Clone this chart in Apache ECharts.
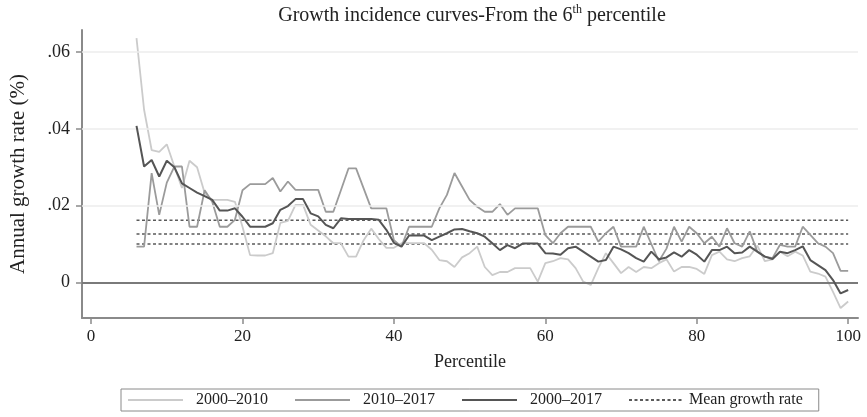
<!DOCTYPE html>
<html>
<head>
<meta charset="utf-8">
<script src="https://cdn.jsdelivr.net/npm/echarts@6/dist/echarts.min.js"></script>
<style>
  html, body { margin: 0; padding: 0; background: #ffffff; }
  #chart { width: 867px; height: 417px; }
</style>
</head>
<body>
<div id="chart"></div>
<script>
// Percentiles 6..100
const percentiles = [];
for (let p = 6; p <= 100; p++) percentiles.push(p);

// 2000–2010 (light gray)
const g2000_2010 = [
  0.0637, 0.0450, 0.0345, 0.0340, 0.0360, 0.0302, 0.0246, 0.0317, 0.0300, 0.0233,
  0.0215, 0.0215, 0.0215, 0.0210, 0.0145, 0.0071, 0.0070, 0.0070, 0.0076, 0.0155,
  0.0160, 0.0202, 0.0202, 0.0150, 0.0135, 0.0120, 0.0102, 0.0102, 0.0067, 0.0067,
  0.0110, 0.0140, 0.0113, 0.0090, 0.0090, 0.0102, 0.0102, 0.0102, 0.0102, 0.0085,
  0.0058, 0.0055, 0.0040, 0.0065, 0.0076, 0.0093, 0.0040, 0.0019, 0.0027, 0.0027,
  0.0037, 0.0037, 0.0037, 0.0002, 0.0050, 0.0055, 0.0063, 0.0060, 0.0037, 0.0002,
  -0.0007, 0.0037, 0.0076, 0.0050, 0.0024, 0.0040, 0.0027, 0.0040, 0.0037, 0.0050,
  0.0060, 0.0028, 0.0040, 0.0040, 0.0035, 0.0022, 0.0071, 0.0080, 0.0060, 0.0055,
  0.0063, 0.0068, 0.0096, 0.0055, 0.0060, 0.0080, 0.0068, 0.0080, 0.0070, 0.0028,
  0.0023, 0.0015, -0.0025, -0.0067, -0.0050
];

// 2010–2017 (medium gray)
const g2010_2017 = [
  0.0093, 0.0093, 0.0285, 0.0176, 0.0260, 0.0302, 0.0302, 0.0145, 0.0145, 0.0240,
  0.0210, 0.0145, 0.0145, 0.0163, 0.0240, 0.0256, 0.0256, 0.0256, 0.0272, 0.0237,
  0.0263, 0.0241, 0.0241, 0.0241, 0.0241, 0.0184, 0.0184, 0.0240, 0.0297, 0.0297,
  0.0245, 0.0193, 0.0193, 0.0193, 0.0110, 0.0093, 0.0145, 0.0145, 0.0145, 0.0145,
  0.0193, 0.0228, 0.0285, 0.0250, 0.0215, 0.0197, 0.0184, 0.0184, 0.0204, 0.0176,
  0.0193, 0.0193, 0.0193, 0.0193, 0.0123, 0.0102, 0.0128, 0.0145, 0.0145, 0.0145,
  0.0145, 0.0106, 0.0128, 0.0145, 0.0093, 0.0093, 0.0093, 0.0145, 0.0100, 0.0055,
  0.0088, 0.0145, 0.0106, 0.0145, 0.0128, 0.0102, 0.0119, 0.0093, 0.0141, 0.0102,
  0.0093, 0.0133, 0.0080, 0.0067, 0.0063, 0.0098, 0.0093, 0.0093, 0.0145, 0.0124,
  0.0102, 0.0093, 0.0076, 0.0030, 0.0030
];

// 2000–2017 (dark gray)
const g2000_2017 = [
  0.0408, 0.0302, 0.0319, 0.0276, 0.0317, 0.0300, 0.0258, 0.0246, 0.0234, 0.0225,
  0.0215, 0.0187, 0.0187, 0.0193, 0.0171, 0.0145, 0.0145, 0.0145, 0.0154, 0.0189,
  0.0199, 0.0217, 0.0217, 0.0180, 0.0172, 0.0150, 0.0141, 0.0167, 0.0165, 0.0165,
  0.0165, 0.0165, 0.0163, 0.0137, 0.0103, 0.0093, 0.0122, 0.0122, 0.0122, 0.0110,
  0.0119, 0.0128, 0.0138, 0.0139, 0.0133, 0.0128, 0.0119, 0.0102, 0.0084, 0.0097,
  0.0089, 0.0101, 0.0101, 0.0101, 0.0076, 0.0075, 0.0072, 0.0089, 0.0093, 0.0080,
  0.0067, 0.0054, 0.0058, 0.0093, 0.0086, 0.0076, 0.0063, 0.0054, 0.0080, 0.0060,
  0.0065, 0.0078, 0.0067, 0.0084, 0.0072, 0.0054, 0.0084, 0.0084, 0.0093, 0.0076,
  0.0078, 0.0093, 0.0080, 0.0067, 0.0061, 0.0080, 0.0076, 0.0084, 0.0094, 0.0058,
  0.0045, 0.0032, 0.0006, -0.0029, -0.0020
];

// Mean growth rates (2010–2017, 2000–2017, 2000–2010)
const meanRates = [0.0162, 0.0126, 0.0100];
const meanRange = [6, 100];

const xTicks = [0, 20, 40, 60, 80, 100];
const yTicks = [0, 0.02, 0.04, 0.06];
const yGrid = [0.02, 0.04, 0.06];

const FONT = 'Liberation Serif';

function pairs(vals) { return percentiles.map((p, i) => [p, vals[i]]); }

const series = [];
const lineDefs = [
  { name: '2000\u20132010', data: g2000_2010, color: '#cbcbcb', width: 1.8 },
  { name: '2010\u20132017', data: g2010_2017, color: '#9b9b9b', width: 1.8 },
  { name: '2000\u20132017', data: g2000_2017, color: '#555555', width: 2 }
];

// gridlines + zero line through a carrier series
series.push({
  type: 'line', data: [], silent: true, name: '_grid',
  markLine: {
    silent: true, symbol: 'none', label: { show: false },
    data: yGrid.map(v => ({ yAxis: v, lineStyle: { color: '#ececec', width: 1.5, type: 'solid' } }))
      .concat([{ yAxis: 0, lineStyle: { color: '#7a7a7a', width: 2, type: 'solid' } }])
  }
});

meanRates.forEach(m => {
  series.push({
    name: 'Mean growth rate', type: 'line', symbol: 'none', showSymbol: false,
    data: meanRange.map(x => [x, m]),
    lineStyle: { color: '#5a5a5a', width: 1.6, type: [3, 2.5] },
    itemStyle: { color: '#5a5a5a' },
    z: 2
  });
});

lineDefs.forEach((d, i) => {
  series.push({
    name: d.name, type: 'line', symbol: 'none', showSymbol: false,
    data: pairs(d.data),
    lineStyle: { color: d.color, width: d.width },
    itemStyle: { color: d.color },
    z: 3 + i
  });
});

const chart = echarts.init(document.getElementById('chart'), null, { renderer: 'canvas' });
chart.setOption({
  animation: false,
  backgroundColor: '#ffffff',
  title: {
    text: 'Growth incidence curves-From the 6{sup|th} percentile',
    left: 467, top: -1, textAlign: 'center',
    textStyle: {
      fontFamily: FONT, fontSize: 20, fontWeight: 'normal', color: '#222',
      rich: { sup: { fontFamily: FONT, fontSize: 12, color: '#222', verticalAlign: 'top', lineHeight: 24 } }
    }
  },
  legend: {
    data: [
      { name: '2000\u20132010' },
      { name: '2010\u20132017' },
      { name: '2000\u20132017' },
      { name: 'Mean growth rate', textStyle: { padding: [0, 0, 0, 0] } }
    ],
    left: 121, top: 389,
    padding: [3, 16, 3, 6],
    itemWidth: 55, itemHeight: 14, itemGap: 26,
    borderColor: '#8a8a8a', borderWidth: 1,
    itemStyle: { color: 'rgba(0,0,0,0)', borderWidth: 0, opacity: 0 },
    textStyle: { fontFamily: FONT, fontSize: 16, color: '#222', padding: [0, 0, 0, 8] }
  },
  grid: { left: 81, right: 9, top: 30, bottom: 99, containLabel: false },
  xAxis: {
    type: 'value', min: -1.2, max: 101.3,
    name: 'Percentile', nameLocation: 'middle', nameGap: 35,
    nameTextStyle: { fontFamily: FONT, fontSize: 18, color: '#222' },
    axisLine: { show: true, onZero: false, lineStyle: { color: '#8a8a8a', width: 2 } },
    axisTick: { show: true, customValues: xTicks, length: 6, lineStyle: { color: '#8a8a8a', width: 1.5 } },
    axisLabel: { customValues: xTicks, fontFamily: FONT, fontSize: 17, color: '#222', margin: 10 },
    splitLine: { show: false }
  },
  yAxis: {
    type: 'value', min: -0.0093, max: 0.0658,
    name: 'Annual growth rate (%)', nameLocation: 'middle', nameGap: 53,
    nameTextStyle: { fontFamily: FONT, fontSize: 21, color: '#222' },
    axisLine: { show: true, onZero: false, lineStyle: { color: '#8a8a8a', width: 2 } },
    axisTick: { show: true, customValues: yTicks, length: 6, lineStyle: { color: '#8a8a8a', width: 1.5 } },
    axisLabel: {
      customValues: yTicks, fontFamily: FONT, fontSize: 18, color: '#222', margin: 12,
      formatter: v => (Math.abs(v) < 1e-9 ? '0' : '.' + Math.round(v * 100).toString().padStart(2, '0'))
    },
    splitLine: { show: false }
  },
  series: series
});
</script>
</body>
</html>
